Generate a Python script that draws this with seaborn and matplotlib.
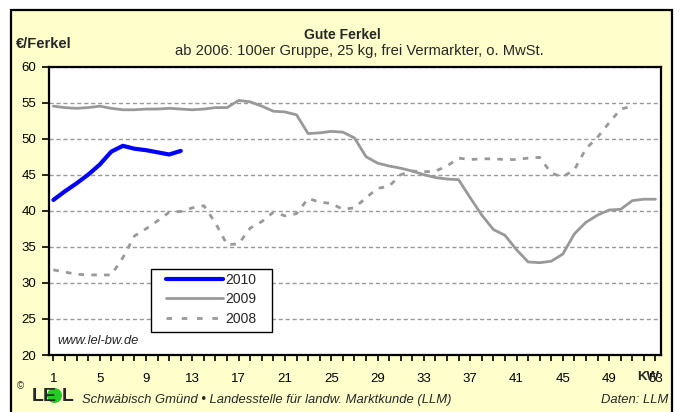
import matplotlib
matplotlib.use("Agg")
import matplotlib.pyplot as plt
import matplotlib.patches as mpatches
from matplotlib.lines import Line2D
import seaborn as sns
import pandas as pd
import numpy as np

# ---------------- data ----------------
weeks_2010 = list(range(1, 13))
price_2010 = [41.5, 42.7, 43.8, 45.0, 46.4, 48.2, 49.0, 48.6, 48.4, 48.1, 47.8, 48.3]

weeks_2009 = list(range(1, 54))
price_2009 = [54.5, 54.3, 54.2, 54.3, 54.5, 54.2, 54.0, 54.0, 54.1, 54.1,
              54.2, 54.1, 54.0, 54.1, 54.3, 54.3, 55.3, 55.1, 54.5, 53.8,
              53.7, 53.3, 50.7, 50.8, 51.0, 50.9, 50.1, 47.5, 46.6, 46.2,
              45.9, 45.5, 45.0, 44.6, 44.4, 44.3, 41.8, 39.4, 37.4, 36.6,
              34.6, 32.9, 32.8, 33.0, 34.0, 36.8, 38.4, 39.4, 40.1, 40.2,
              41.4, 41.6, 41.6]

weeks_2008 = list(range(1, 52))
price_2008 = [31.8, 31.5, 31.2, 31.1, 31.1, 31.1, 33.5, 36.5, 37.5, 38.6,
              39.8, 39.9, 40.4, 40.7, 38.3, 35.3, 35.4, 37.6, 38.5, 39.8,
              39.3, 39.6, 41.7, 41.2, 41.0, 40.2, 40.4, 41.8, 43.1, 43.4,
              45.0, 45.5, 45.4, 45.5, 46.2, 47.3, 47.1, 47.2, 47.2, 47.1,
              47.1, 47.3, 47.4, 45.2, 44.7, 45.7, 48.6, 50.2, 52.2, 54.1,
              54.5]

x_tick_labels = [1, 5, 9, 13, 17, 21, 25, 29, 33, 37, 41, 45, 49, 53]
y_ticks = [20, 25, 30, 35, 40, 45, 50, 55, 60]

title = "Gute Ferkel"
subtitle = "ab 2006: 100er Gruppe, 25 kg, frei Vermarkter, o. MwSt."
ylabel = "€/Ferkel"

# ---------------- style ----------------
sns.set_style("white")
plt.rcParams['font.family'] = ['Liberation Sans', 'DejaVu Sans']

W, H = 680, 412
fig = plt.figure(figsize=(W / 100, H / 100), dpi=100)
fig.patch.set_facecolor("white")

def fx(px):
    return px / W

def fy(py):
    return 1 - py / H

# yellow chart area with black border
bg = mpatches.Rectangle((fx(11), fy(414)), fx(672) - fx(11), fy(10) - fy(414),
                        transform=fig.transFigure, facecolor="#FFFFCC",
                        edgecolor="black", linewidth=1.6, zorder=-5)
fig.patches.append(bg)

ax = fig.add_axes([fx(49), fy(355), fx(661) - fx(49), fy(66.5) - fy(355)])
ax.set_zorder(1)
ax.set_facecolor("white")

grey = "#999999"
sns.lineplot(x=weeks_2008, y=price_2008, ax=ax, color=grey, linewidth=2.0,
             linestyle=(0, (2.0, 2.6)), label="2008", zorder=3)
sns.lineplot(x=weeks_2009, y=price_2009, ax=ax, color=grey, linewidth=2.0,
             label="2009", zorder=4)
sns.lineplot(x=weeks_2010, y=price_2010, ax=ax, color="#0000FF", linewidth=3.0,
             label="2010", zorder=5)

ax.set_xlim(0.62, 53.48)
ax.set_ylim(20, 60)
ax.set_yticks(y_ticks)
ax.set_xticks(x_tick_labels)
ax.set_xticklabels([str(v) for v in x_tick_labels])
ax.set_xticks(list(range(1, 54)), minor=True)
ax.set_xlabel("")
ax.set_ylabel("")

ax.tick_params(axis="y", direction="out", length=5, width=1.2, pad=4,
               labelsize=9.5, colors="black", left=True)
ax.tick_params(axis="x", which="both", direction="out", length=4, width=1.2,
               pad=9, labelsize=9.5, colors="black", bottom=True)

ax.grid(axis="y", linestyle=(0, (3, 2)), color=grey, linewidth=1.0, zorder=1)
ax.grid(axis="x", visible=False)
for s in ax.spines.values():
    s.set_visible(True)
    s.set_color("black")
    s.set_linewidth(1.6)
    s.set_zorder(6)

# legend: box drawn separately, entries placed inside it
def axx(px):
    return (px - 49) / (661 - 49)

def axy(py):
    return (355 - py) / (355 - 66.5)

legbox = mpatches.Rectangle((axx(150.7), axy(331.7)), axx(272.3) - axx(150.7),
                            axy(269.3) - axy(331.7), transform=ax.transAxes,
                            facecolor="white", edgecolor="black", linewidth=1.0,
                            zorder=7)
ax.add_patch(legbox)
handles = [Line2D([], [], color="#0000FF", linewidth=3.0),
           Line2D([], [], color=grey, linewidth=2.0),
           Line2D([], [], color=grey, linewidth=2.0, linestyle=(0, (2.0, 3.5)))]
leg = ax.legend(handles, ["2010", "2009", "2008"], loc="upper left",
                bbox_to_anchor=(axx(166), axy(272.5)), borderaxespad=0,
                frameon=False, fontsize=10, handlelength=4.1,
                handletextpad=0.15, labelspacing=0.42, borderpad=0)
leg.set_zorder(8)

ax.text(axx(57), axy(341.5), "www.lel-bw.de", transform=ax.transAxes,
        fontsize=9.3, style="italic", ha="left", va="center", zorder=8)

# titles and labels
fig.text(fx(342), fy(35), title, fontsize=10, fontweight="bold",
         ha="center", va="center")
fig.text(fx(359), fy(50.5), subtitle, fontsize=10.6, ha="center", va="center")
fig.text(fx(16), fy(44), ylabel, fontsize=10.5, fontweight="bold",
         ha="left", va="center")
fig.text(fx(648), fy(377), "KW", fontsize=9.5, fontweight="bold",
         ha="center", va="center", zorder=5)

# footer
fig.text(fx(82), fy(400), "Schwäbisch Gmünd • Landesstelle für landw. Marktkunde (LLM)",
         fontsize=9.4, style="italic", ha="left", va="center")
fig.text(fx(668), fy(400), "Daten: LLM", fontsize=9.4, style="italic",
         ha="right", va="center")
fig.text(fx(17), fy(386), "©", fontsize=7, ha="left", va="center")
fig.text(fx(32), fy(396.5), "L", fontsize=14, fontweight="bold",
         ha="left", va="center")
fig.patches.append(mpatches.Ellipse((fx(54.5), fy(395.5)), 15 / W, 15 / H,
                                    transform=fig.transFigure,
                                    facecolor="#22CC22", edgecolor="none",
                                    zorder=2))
fig.text(fx(43), fy(396.5), "E", fontsize=14, fontweight="bold",
         ha="left", va="center", zorder=3)
fig.text(fx(62), fy(396.5), "L", fontsize=14, fontweight="bold",
         ha="left", va="center")

fig.savefig("out.png", dpi=100)
